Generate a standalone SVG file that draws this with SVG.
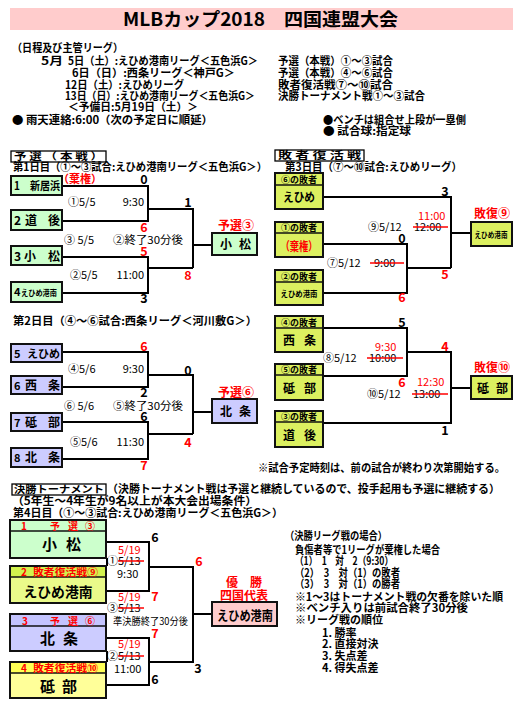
<svg xmlns="http://www.w3.org/2000/svg" width="525" height="718" viewBox="0 0 525 718">
<style>
text{font-family:"Noto Sans CJK JP","Liberation Sans",sans-serif;font-weight:bold;font-size:11px;fill:#000}
.r{fill:#f00}
.sc{font-size:12.5px;text-anchor:middle}
.m{text-anchor:middle}
.n{font-weight:normal}
.ln{stroke:#000;stroke-width:2;fill:none}
.st{stroke:#f00;stroke-width:1.5}
.bx{stroke:#111;stroke-width:2}
.g{fill:#ccffcc}
.p{fill:#ccccff}
.y{fill:#dcf060}
.lab{fill:#fff;stroke:#000;stroke-width:1.3}
.hd{font-size:9px}
.nm{font-size:12px}
.sm{font-size:8px}
.big{font-size:15px}
.fh{font-size:10px}
</style>
<rect width="525" height="718" fill="#fff"/>

<g id="title">
<rect x="10" y="8" width="503" height="22" fill="#ffcccc"/>
<text x="123" y="26" style="font-size:18px" textLength="275" lengthAdjust="spacingAndGlyphs">MLBカップ2018　四国連盟大会</text>
</g>

<g id="schedule">
<text x="12" y="52" textLength="111" lengthAdjust="spacingAndGlyphs">（日程及び主管リーグ）</text>
<text x="41" y="65" textLength="22" lengthAdjust="spacingAndGlyphs">5月</text>
<text x="68" y="65" textLength="190" lengthAdjust="spacingAndGlyphs">5日（土）:えひめ港南リーグ＜五色浜G＞</text>
<text x="278" y="65" textLength="115" lengthAdjust="spacingAndGlyphs">予選（本戦）①～③試合</text>
<text x="72" y="77" textLength="163" lengthAdjust="spacingAndGlyphs">6日（日）:西条リーグ＜神戸G＞</text>
<text x="278" y="77" textLength="115" lengthAdjust="spacingAndGlyphs">予選（本戦）④～⑥試合</text>
<text x="65" y="89" textLength="119" lengthAdjust="spacingAndGlyphs">12日（土）:えひめリーグ</text>
<text x="278" y="89" textLength="115" lengthAdjust="spacingAndGlyphs">敗者復活戦⑦～⑩試合</text>
<text x="65" y="100" textLength="190" lengthAdjust="spacingAndGlyphs">13日（日）:えひめ港南リーグ＜五色浜G＞</text>
<text x="278" y="100" textLength="147" lengthAdjust="spacingAndGlyphs">決勝トーナメント戦①～③試合</text>
<text x="68" y="111" textLength="130" lengthAdjust="spacingAndGlyphs">＜予備日:5月19日（土）＞</text>
<text x="12" y="124" textLength="201" lengthAdjust="spacingAndGlyphs">● 雨天連絡:6:00（次の予定日に順延）</text>
<text x="323" y="124" textLength="143" lengthAdjust="spacingAndGlyphs">●ベンチは組合せ上段が一塁側</text>
<text x="323" y="135" textLength="88" lengthAdjust="spacingAndGlyphs">● 試合球:指定球</text>
</g>

<!-- Section labels -->
<g id="label-yosen">
<rect class="lab" x="11" y="151" width="95" height="11"/>
<text x="14" y="160" style="font-size:10px" textLength="89" lengthAdjust="spacingAndGlyphs">予 選 （ 本 戦 ）</text>
<text x="13" y="171" textLength="254" lengthAdjust="spacingAndGlyphs">第1日目（①～③試合:えひめ港南リーグ＜五色浜G＞）</text>
</g>
<g id="label-haisha">
<rect class="lab" x="275" y="150" width="89" height="11"/>
<text x="278" y="159" style="font-size:10px" textLength="83" lengthAdjust="spacingAndGlyphs">敗 者 復 活 戦</text>
<text x="285" y="171" textLength="177" lengthAdjust="spacingAndGlyphs">第3日目（⑦～⑩試合:えひめリーグ）</text>
</g>
<g id="label-day2">
<text x="13" y="325" textLength="244" lengthAdjust="spacingAndGlyphs">第2日目（④～⑥試合:西条リーグ＜河川敷G＞）</text>
</g>
<g id="note-time">
<text x="258" y="472" textLength="247" lengthAdjust="spacingAndGlyphs">※試合予定時刻は、前の試合が終わり次第開始する。</text>
</g>
<g id="label-final">
<rect class="lab" x="12" y="484" width="94" height="11"/>
<text x="14" y="493" style="font-size:10px" textLength="90" lengthAdjust="spacingAndGlyphs">決勝トーナメント</text>
<text x="107" y="493" textLength="393" lengthAdjust="spacingAndGlyphs">（決勝トーナメント戦は予選と継続しているので、投手起用も予選に継続する）</text>
<text x="12" y="505" textLength="245" lengthAdjust="spacingAndGlyphs">（5年生～4年生が9名以上が本大会出場条件）</text>
<text x="13" y="517" textLength="270" lengthAdjust="spacingAndGlyphs">第4日目（①～③試合:えひめ港南リーグ＜五色浜G＞）</text>
</g>

<!-- Connectors -->
<g id="connectors" class="ln">
<path d="M62,186H148V221H62"/>
<path d="M148,209H193V268"/>
<path d="M62,257H148V293H62"/>
<path d="M148,268H193"/>
<path d="M193,245H212"/>
<path d="M62,352H148V387H62"/>
<path d="M148,375H193V434"/>
<path d="M62,422H148V459H62"/>
<path d="M148,434H193"/>
<path d="M193,412H212"/>
<path d="M323,197H451V268"/>
<path d="M323,244H407V293H323"/>
<path d="M407,268H451"/>
<path d="M451,233H471"/>
<path d="M323,328H407V376H323"/>
<path d="M407,352H451V423H323"/>
<path d="M451,388H471"/>
<path d="M106,542H149V591H106"/>
<path d="M107,558V566"/>
<path d="M106,638H149V685H106"/>
<path d="M107,651V662"/>
<path d="M149,567H193V662H149"/>
<path d="M193,614H212"/>
</g>

<!-- Prelim day1 teams -->
<g id="t-niihama"><rect class="bx g" x="11" y="176" width="51" height="19"/><text x="14" y="190" textLength="46" lengthAdjust="spacingAndGlyphs">1　新居浜</text></g>
<g id="t-dogo"><rect class="bx g" x="11" y="210" width="51" height="20"/><text class="nm" x="14" y="225">2</text><text class="nm" x="25" y="225">道</text><text class="nm" x="48" y="225">後</text></g>
<g id="t-komatsu"><rect class="bx g" x="11" y="246" width="51" height="19"/><text class="nm" x="14" y="261">3</text><text class="nm" x="24" y="261">小</text><text class="nm" x="48" y="261">松</text></g>
<g id="t-ehimekonan"><rect class="bx g" x="11" y="282" width="51" height="20"/><text x="14" y="296">4</text><text class="sm" x="21" y="296" textLength="36" lengthAdjust="spacingAndGlyphs">えひめ港南</text></g>
<g id="r-yosen3"><text class="r m nm" x="236" y="230">予選③</text><rect class="bx g" x="212" y="233" width="45" height="22"/><text class="nm" x="220" y="249">小</text><text class="nm" x="239" y="249">松</text></g>

<!-- Prelim day2 teams -->
<g id="t-ehime"><rect class="bx p" x="11" y="344" width="51" height="18"/><text x="14" y="358">5</text><text x="27" y="358" textLength="33" lengthAdjust="spacingAndGlyphs">えひめ</text></g>
<g id="t-saijo"><rect class="bx p" x="11" y="376" width="51" height="18"/><text x="14" y="390">6</text><text class="nm" x="25" y="390">西</text><text class="nm" x="48" y="390">条</text></g>
<g id="t-tobe"><rect class="bx p" x="11" y="413" width="51" height="18"/><text x="14" y="427">7</text><text class="nm" x="25" y="427">砥</text><text class="nm" x="48" y="427">部</text></g>
<g id="t-hojo"><rect class="bx p" x="11" y="448" width="51" height="19"/><text x="14" y="462">8</text><text class="nm" x="25" y="462">北</text><text class="nm" x="48" y="462">条</text></g>
<g id="r-yosen6"><text class="r m nm" x="236" y="397">予選⑥</text><rect class="bx p" x="212" y="399" width="45" height="24"/><text class="nm" x="220" y="416">北</text><text class="nm" x="239" y="416">条</text></g>

<!-- Haisha boxes -->
<g id="h-6"><rect class="bx y" x="275" y="173" width="48" height="36"/><path d="M275,185H323" stroke="#111" stroke-width="1.5"/><text class="hd m" x="299" y="183">⑥の敗者</text><text class="m" x="299" y="202" textLength="32" lengthAdjust="spacingAndGlyphs" style="font-size:12px">えひめ</text></g>
<g id="h-1"><rect class="bx y" x="275" y="222" width="48" height="35"/><path d="M275,233H323" stroke="#111" stroke-width="1.5"/><text class="hd m" x="299" y="231">①の敗者</text><text class="r m nm" x="299" y="251" textLength="37" lengthAdjust="spacingAndGlyphs">（棄権）</text></g>
<g id="h-2"><rect class="bx y" x="275" y="270" width="48" height="35"/><path d="M275,282H323" stroke="#111" stroke-width="1.5"/><text class="hd m" x="299" y="280">②の敗者</text><text class="sm m" x="299" y="297" textLength="37" lengthAdjust="spacingAndGlyphs">えひめ港南</text></g>
<g id="r-haifuku9"><text class="r m" x="492" y="218" style="font-size:12px">敗復⑨</text><rect class="bx y" x="471" y="222" width="41" height="24"/><text class="sm m" x="491" y="238" textLength="33" lengthAdjust="spacingAndGlyphs">えひめ港南</text></g>
<g id="h-4"><rect class="bx y" x="275" y="316" width="48" height="36"/><path d="M275,328H323" stroke="#111" stroke-width="1.5"/><text class="hd m" x="299" y="326">④の敗者</text><text class="nm" x="283" y="345">西</text><text class="nm" x="304" y="345">条</text></g>
<g id="h-5"><rect class="bx y" x="275" y="364" width="48" height="36"/><path d="M275,375H323" stroke="#111" stroke-width="1.5"/><text class="hd m" x="299" y="373">⑤の敗者</text><text class="nm" x="283" y="393">砥</text><text class="nm" x="304" y="393">部</text></g>
<g id="h-3"><rect class="bx y" x="275" y="411" width="48" height="36"/><path d="M275,422H323" stroke="#111" stroke-width="1.5"/><text class="hd m" x="299" y="420">③の敗者</text><text class="nm" x="283" y="440">道</text><text class="nm" x="304" y="440">後</text></g>
<g id="r-haifuku10"><text class="r m" x="492" y="372" style="font-size:12px">敗復⑩</text><rect class="bx y" x="471" y="376" width="41" height="23"/><text class="nm" x="477" y="393">砥</text><text class="nm" x="496" y="393">部</text></g>

<!-- Game labels prelim -->
<g id="game-labels">
<text class="sc" x="144" y="184">0</text>
<text class="r m" x="80" y="183">（棄権）</text>
<text class="n" x="68" y="206">①5/5</text><text class="n" x="144" y="206" text-anchor="end">9:30</text>
<text class="sc r" x="144" y="232">6</text>
<text class="sc" x="188" y="207">1</text>
<text class="n" x="64" y="244">③ 5/5</text><text class="n" x="113" y="244" textLength="70" lengthAdjust="spacingAndGlyphs">②終了30分後</text>
<text class="sc r" x="144" y="256">5</text>
<text class="n" x="70" y="279">②5/5</text><text class="n" x="144" y="279" text-anchor="end">11:00</text>
<text class="sc r" x="188" y="280">8</text>
<text class="sc" x="144" y="303">3</text>

<text class="sc r" x="144" y="351">6</text>
<text class="n" x="68" y="373">④5/6</text><text class="n" x="144" y="373" text-anchor="end">9:30</text>
<text class="sc" x="188" y="375">0</text>
<text class="sc" x="144" y="397">2</text>
<text class="n" x="64" y="410">⑥ 5/6</text><text class="n" x="113" y="410" textLength="70" lengthAdjust="spacingAndGlyphs">⑤終了30分後</text>
<text class="sc" x="144" y="421">6</text>
<text class="n" x="70" y="446">⑤5/6</text><text class="n" x="144" y="446" text-anchor="end">11:30</text>
<text class="sc r" x="188" y="447">4</text>
<text class="sc r" x="144" y="470">7</text>

<text class="sc" x="445" y="196">3</text>
<text class="sc" x="402" y="243">0</text>
<text class="sc r" x="445" y="279">5</text>
<text class="sc r" x="402" y="302">6</text>
<text class="n" x="368" y="231">⑨5/12</text>
<text class="r n" x="418" y="220">11:00</text>
<text class="n" x="414" y="231">12:00</text><path class="st" d="M413,227H448"/>
<text class="n" x="327" y="267">⑦5/12</text>
<text class="n" x="374" y="267">9:00</text><path class="st" d="M370,263H404"/>

<text class="sc" x="402" y="327">5</text>
<text class="sc r" x="445" y="351">4</text>
<text class="sc r" x="402" y="387">6</text>
<text class="sc" x="445" y="435">1</text>
<text class="n" x="323" y="362">⑧5/12</text>
<text class="r n" x="375" y="351">9:30</text>
<text class="n" x="369" y="362">10:00</text><path class="st" d="M367,358H403"/>
<text class="n" x="367" y="398">⑩5/12</text>
<text class="r n" x="417" y="386">12:30</text>
<text class="n" x="413" y="398">13:00</text><path class="st" d="M412,394H448"/>
</g>

<!-- Final tournament -->
<g id="f-1"><rect x="10" y="520" width="96" height="11" fill="#ccffcc"/><rect x="10" y="531" width="96" height="27" fill="#ccffcc"/><rect class="bx" x="10" y="520" width="96" height="38" fill="none"/><path d="M10,531H106" stroke="#111" stroke-width="1.5"/>
<text class="r fh" x="21" y="530">1</text><text class="r fh" x="50" y="530">予</text><text class="r fh" x="68" y="530">選</text><text class="r fh" x="85" y="530">③</text>
<text class="big" x="42" y="550">小</text><text class="big" x="66" y="550">松</text></g>
<g id="f-2"><rect x="10" y="566" width="96" height="11" fill="#d2f24e"/><rect x="10" y="577" width="96" height="26" fill="#eafa8a"/><rect class="bx" x="10" y="566" width="96" height="37" fill="none"/><path d="M10,577H106" stroke="#111" stroke-width="1.5"/>
<text class="r fh" x="21" y="576">2</text><text class="r fh" x="33" y="576" textLength="65" lengthAdjust="spacingAndGlyphs">敗者復活戦⑨</text>
<text class="m" x="58" y="597" style="font-size:14px" textLength="69" lengthAdjust="spacingAndGlyphs">えひめ港南</text></g>
<g id="f-3"><rect x="10" y="614" width="96" height="12" fill="#c4c4ff"/><rect x="10" y="626" width="96" height="25" fill="#ccccff"/><rect class="bx" x="10" y="614" width="96" height="37" fill="none"/><path d="M10,626H106" stroke="#111" stroke-width="1.5"/>
<text class="r fh" x="22" y="625">3</text><text class="r fh" x="50" y="625">予</text><text class="r fh" x="68" y="625">選</text><text class="r fh" x="85" y="625">⑥</text>
<text class="big" x="40" y="644">北</text><text class="big" x="63" y="644">条</text></g>
<g id="f-4"><rect x="10" y="662" width="96" height="11" fill="#ffff55"/><rect x="10" y="673" width="96" height="25" fill="#ffff99"/><rect class="bx" x="10" y="662" width="96" height="36" fill="none"/><path d="M10,673H106" stroke="#111" stroke-width="1.5"/>
<text class="r fh" x="21" y="672">4</text><text class="r fh" x="33" y="672" textLength="65" lengthAdjust="spacingAndGlyphs">敗者復活戦⑩</text>
<text class="big" x="40" y="692">砥</text><text class="big" x="62" y="692">部</text></g>
<g id="champion"><text class="r m nm" x="244" y="587">優　勝</text><text class="r m nm" x="244" y="600">四国代表</text><rect class="bx" x="212" y="602" width="65" height="24" fill="#ffcccc"/><text class="m" x="245" y="620" style="font-size:13px" textLength="56" lengthAdjust="spacingAndGlyphs">えひめ港南</text></g>

<g id="final-labels">
<text class="sc" x="155" y="542">6</text>
<text class="sc r" x="199" y="566">6</text>
<text class="r n" x="118" y="554">5/19</text>
<text class="n" x="107" y="565">①</text><text class="n" x="118" y="565">5/13</text><path class="st" d="M118,561H144"/>
<text class="n" x="117" y="578">9:30</text>
<text class="sc r" x="155" y="601">7</text>
<text class="r n" x="118" y="601">5/19</text>
<text class="n" x="107" y="612">③</text><text class="n" x="118" y="612">5/13</text><path class="st" d="M118,608H144"/>
<text class="n" x="113" y="625" style="font-size:10px" textLength="75" lengthAdjust="spacingAndGlyphs">準決勝終了30分後</text>
<text class="sc r" x="155" y="638">7</text>
<text class="r n" x="118" y="648">5/19</text>
<text class="n" x="107" y="660">②</text><text class="n" x="118" y="660">5/13</text><path class="st" d="M118,656H144"/>
<text class="n" x="114" y="673">11:00</text>
<text class="sc" x="198" y="673">3</text>
<text class="sc" x="155" y="684">6</text>
</g>

<g id="league-notes">
<text x="285" y="540" textLength="102" lengthAdjust="spacingAndGlyphs">（決勝リーグ戦の場合）</text>
<text x="295" y="554" textLength="145" lengthAdjust="spacingAndGlyphs">負傷者等で1リーグが棄権した場合</text>
<text x="295" y="565" textLength="98" lengthAdjust="spacingAndGlyphs">（1）　1　対　2（9:30）</text>
<text x="295" y="577" textLength="105" lengthAdjust="spacingAndGlyphs">（2）　3　対（1）の敗者</text>
<text x="295" y="588" textLength="105" lengthAdjust="spacingAndGlyphs">（3）　3　対（1）の勝者</text>
<text x="295" y="601" textLength="208" lengthAdjust="spacingAndGlyphs">※1～3はトーナメント戦の欠番を除いた順</text>
<text x="295" y="612" textLength="173" lengthAdjust="spacingAndGlyphs">※ベンチ入りは前試合終了30分後</text>
<text x="295" y="624" textLength="88" lengthAdjust="spacingAndGlyphs">※リーグ戦の順位</text>
<text x="322" y="637">1. 勝率</text>
<text x="322" y="648">2. 直接対決</text>
<text x="322" y="660">3. 失点差</text>
<text x="322" y="672">4. 得失点差</text>
</g>
</svg>
